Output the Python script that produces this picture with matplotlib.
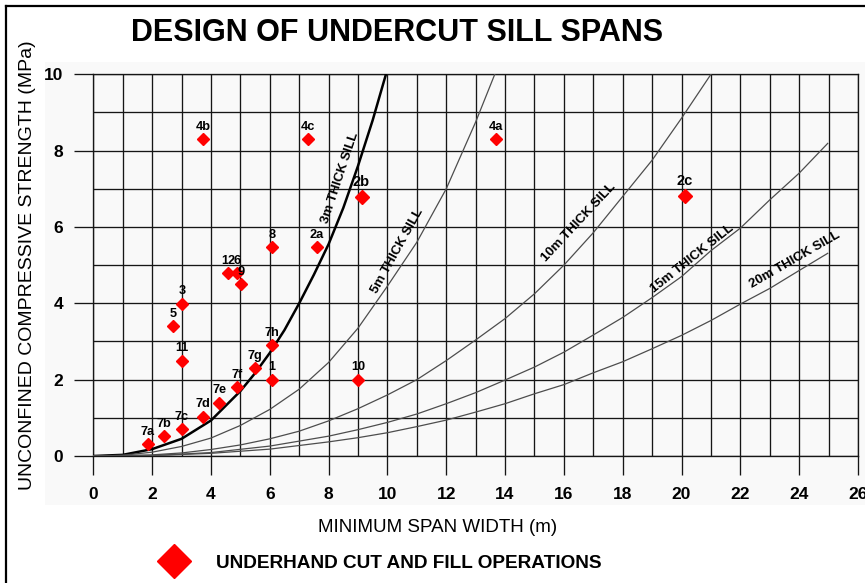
import numpy as np
import matplotlib
matplotlib.use("Agg")
import matplotlib.pyplot as plt
from matplotlib.lines import Line2D
from matplotlib.patches import Rectangle

plt.rcParams["font.family"] = ["Liberation Sans", "DejaVu Sans"]

INK, CURVE, RED, PANEL = "#161616", "#4d4d4d", "#ff0000", "#f9f9f9"
W, H = 865, 583

# case histories (underhand cut and fill)
point_labels = ["7a", "7b", "7c", "7d", "7e", "7f", "7g", "7h", "1", "11", "5",
                "3", "12", "6", "9", "8", "2a", "4b", "4c", "4a", "10"]
point_span = [1.85, 2.40, 3.01, 3.73, 4.28, 4.89, 5.50, 6.08, 6.08, 3.01, 2.70,
              3.02, 4.59, 4.88, 5.01, 6.08, 7.61, 3.74, 7.30, 13.70, 9.00]
point_ucs = [0.32, 0.52, 0.70, 1.03, 1.40, 1.80, 2.31, 2.90, 2.00, 2.50, 3.41,
             3.99, 4.79, 4.79, 4.51, 5.48, 5.48, 8.30, 8.30, 8.30, 2.00]
big_labels = ["2b", "2c"]
big_span = [9.12, 20.12]
big_ucs = [6.79, 6.81]

# design curves: span (m) vs UCS (MPa)
sill_3m_x = [0, 1, 2, 3, 4, 5, 5.5, 6, 6.5, 7, 7.5, 8, 8.5, 9, 9.5, 9.95]
sill_3m_y = [0, 0.03, 0.18, 0.45, 0.93, 1.7, 2.17, 2.7, 3.3, 4.0, 4.75, 5.55, 6.5, 7.6, 8.8, 10.0]
sill_5m_x = [0, 1, 2, 3, 4, 5, 6, 7, 8, 9, 10, 11, 12, 13, 13.65]
sill_5m_y = [0, 0.02, 0.1, 0.25, 0.47, 0.8, 1.22, 1.75, 2.45, 3.35, 4.45, 5.6, 7.0, 8.75, 10.0]
sill_10m_x = [0, 2, 3, 4, 5, 6, 7, 8, 9, 10, 11, 12, 13, 14, 15, 16, 17, 18, 19, 20, 21]
sill_10m_y = [0, 0.03, 0.08, 0.17, 0.29, 0.45, 0.65, 0.92, 1.24, 1.6, 2.0, 2.5, 3.04,
              3.6, 4.25, 5.0, 5.85, 6.8, 7.75, 8.85, 10.0]
sill_15m_x = [0, 2, 4, 6, 8, 9, 10, 11, 12, 13, 14, 15, 16, 17, 18, 19, 20, 21, 22, 23, 24, 24.97]
sill_15m_y = [0, 0.01, 0.09, 0.26, 0.52, 0.69, 0.88, 1.1, 1.37, 1.66, 1.99, 2.33, 2.72,
              3.17, 3.63, 4.15, 4.7, 5.38, 5.97, 6.71, 7.41, 8.19]
sill_20m_x = [0, 2, 4, 6, 8, 9, 10, 11, 12, 13, 14, 15, 16, 17, 18, 19, 20, 21, 22, 23, 24, 24.97]
sill_20m_y = [0, 0.01, 0.07, 0.18, 0.37, 0.48, 0.61, 0.77, 0.94, 1.15, 1.37, 1.63, 1.87,
              2.18, 2.47, 2.81, 3.16, 3.55, 3.98, 4.39, 4.86, 5.31]

# curve captions: text, x, y, angle
captions = [("3m THICK SILL", 8.41, 7.28, 71.6),
            ("5m THICK SILL", 10.33, 5.37, 61.0),
            ("10m THICK SILL", 16.5, 6.13, 47.0),
            ("15m THICK SILL", 20.35, 5.16, 38.5),
            ("20m THICK SILL", 23.87, 5.13, 30.0)]

fig = plt.figure(figsize=(W / 100, H / 100), dpi=100, facecolor="white")
fig.add_artist(Rectangle((45 / W, 1 - 505 / H), 1, (505 - 62) / H,
                         transform=fig.transFigure, facecolor=PANEL, edgecolor="none", zorder=-5))
fig.add_artist(Line2D([6 / W, 6 / W], [0, 1 - 5.5 / H], transform=fig.transFigure, color="k", lw=1.6))
fig.add_artist(Line2D([6 / W, 1], [1 - 5.5 / H, 1 - 5.5 / H], transform=fig.transFigure, color="k", lw=1.6))

ax = fig.add_axes([93.3 / W, 1 - 456 / H, (858 - 93.3) / W, (456 - 74.3) / H])
ax.set_facecolor("none")
ax.set_xlim(0, 26)
ax.set_ylim(0, 10)
ax.set_xticks(np.arange(0, 27, 2))
ax.set_xticks(np.arange(0, 27, 1), minor=True)
ax.set_yticks(np.arange(0, 11, 2))
ax.set_yticks(np.arange(0, 11, 1), minor=True)
ax.tick_params(which="major", length=13.7, width=0.95, color=INK, labelsize=12.5)
ax.tick_params(axis="x", which="major", pad=8.6)
ax.tick_params(axis="y", which="major", pad=8)
ax.tick_params(which="minor", length=0)
plt.setp(ax.get_xticklabels() + ax.get_yticklabels(), fontweight="bold")
ax.grid(which="both", color=INK, lw=0.95, zorder=0)
ax.set_axisbelow(True)
for s in ax.spines.values():
    s.set_color(INK)
    s.set_linewidth(0.95)

ax.plot(sill_3m_x, sill_3m_y, color="k", lw=1.8, zorder=3)
for xs, ys in [(sill_5m_x, sill_5m_y), (sill_10m_x, sill_10m_y),
               (sill_15m_x, sill_15m_y), (sill_20m_x, sill_20m_y)]:
    ax.plot(xs, ys, color=CURVE, lw=0.9, zorder=3)

for txt, x, y, ang in captions:
    ax.text(x, y, txt, rotation=ang, rotation_mode="anchor", ha="center", va="center",
            fontsize=9.5, fontweight="bold", color="k", zorder=4)

ax.plot(point_span, point_ucs, ls="none", marker="D", ms=5.8, color=RED, mec=RED, zorder=5)
ax.plot(big_span, big_ucs, ls="none", marker="D", ms=7.6, color=RED, mec=RED, zorder=5)
for lab, x, y in zip(point_labels, point_span, point_ucs):
    ax.annotate(lab, (x, y), xytext=(0, 8.8), textcoords="offset points",
                ha="center", va="center", fontsize=9.2, fontweight="bold", zorder=6)
for lab, x, y in zip(big_labels, big_span, big_ucs):
    ax.annotate(lab, (x, y), xytext=(0, 11), textcoords="offset points",
                ha="center", va="center", fontsize=10.5, fontweight="bold", zorder=6)

fig.text(397 / W, 1 - 33 / H, "DESIGN OF UNDERCUT SILL SPANS", ha="center", va="center",
         fontsize=22, fontweight="bold")
fig.text(28 / W, 1 - 265 / H, "UNCONFINED COMPRESSIVE STRENGTH (MPa)", rotation=90,
         ha="center", va="center", fontsize=14)
fig.text(438 / W, 1 - 528 / H, "MINIMUM SPAN WIDTH (m)", ha="center", va="center", fontsize=13.5)

handle = Line2D([], [], ls="none", marker="D", ms=17, color=RED, mec=RED)
fig.legend([handle], ["UNDERHAND CUT AND FILL OPERATIONS"], loc="center left",
           bbox_to_anchor=(150 / W, 1 - 563 / H), frameon=False, handlelength=1.5,
           handletextpad=1.45, borderpad=0, prop={"size": 13.7, "weight": "bold"})

fig.savefig("out.png", dpi=100, facecolor="white")
